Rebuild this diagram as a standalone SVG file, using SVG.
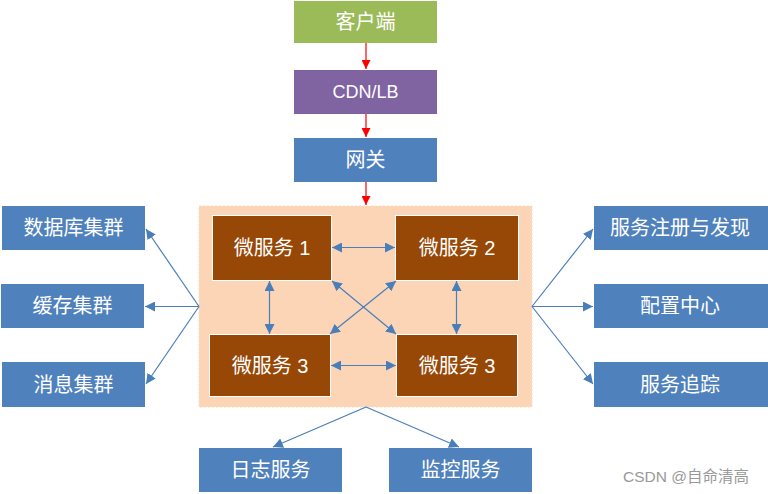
<svg xmlns="http://www.w3.org/2000/svg" width="768" height="494" viewBox="0 0 768 494">
<defs>
<style>
.t{font-family:"Liberation Sans","Noto Sans CJK SC",sans-serif;font-size:20px;fill:#fff;text-anchor:middle;dominant-baseline:central}
.blue{fill:#4F81BD}
.ms{fill:#974706;stroke:#fff;stroke-width:1}
.bl{stroke:#4A7EBB;stroke-width:1.2;fill:none}
.rd{stroke:#FF0000;stroke-width:1.2;fill:none}
</style>
<marker id="ab" viewBox="0 0 10 10" refX="10" refY="5" markerWidth="10" markerHeight="10" markerUnits="userSpaceOnUse" orient="auto-start-reverse">
<path d="M0,0 L10,5 L0,10 z" fill="#4A7EBB"/>
</marker>
<marker id="ar" viewBox="0 0 10 10" refX="10" refY="5" markerWidth="9" markerHeight="9" markerUnits="userSpaceOnUse" orient="auto">
<path d="M0,0 L10,5 L0,10 z" fill="#FF0000"/>
</marker>
</defs>
<rect width="768" height="494" fill="#fff"/>
<g id="container"><rect x="199" y="206" width="333" height="201" fill="#FBD5B5" stroke="#FBDCC2" stroke-dasharray="2,2"/></g>
<g id="client"><rect x="294" y="1" width="143" height="42" fill="#9BBB59"/><text class="t" x="365.5" y="22">客户端</text></g>
<g id="cdn"><rect x="294" y="70" width="143" height="44" fill="#8064A2"/><text class="t" x="365.5" y="92" style="font-size:18px">CDN/LB</text></g>
<g id="gateway"><rect class="blue" x="294" y="138" width="143" height="44"/><text class="t" x="365.5" y="160">网关</text></g>
<g id="ms1"><rect class="ms" x="212.5" y="215.5" width="119" height="65"/><text class="t" x="272" y="248">微服务 1</text></g>
<g id="ms2"><rect class="ms" x="395.5" y="215.5" width="123" height="65"/><text class="t" x="457" y="248">微服务 2</text></g>
<g id="ms3a"><rect class="ms" x="209.5" y="334.5" width="121" height="62"/><text class="t" x="270" y="366">微服务 3</text></g>
<g id="ms3b"><rect class="ms" x="396.5" y="334.5" width="121" height="62"/><text class="t" x="457" y="366">微服务 3</text></g>
<g id="db"><rect class="blue" x="2" y="206" width="143" height="44"/><text class="t" x="73.5" y="228">数据库集群</text></g>
<g id="cache"><rect class="blue" x="1" y="284" width="143" height="44"/><text class="t" x="72.5" y="306">缓存集群</text></g>
<g id="mq"><rect class="blue" x="2" y="362" width="143" height="45"/><text class="t" x="73.5" y="384.5">消息集群</text></g>
<g id="registry"><rect class="blue" x="594" y="206" width="174" height="44"/><text class="t" x="680" y="228">服务注册与发现</text></g>
<g id="config"><rect class="blue" x="594" y="284" width="174" height="44"/><text class="t" x="680" y="306">配置中心</text></g>
<g id="trace"><rect class="blue" x="594" y="362" width="174" height="45"/><text class="t" x="680" y="384.5">服务追踪</text></g>
<g id="log"><rect class="blue" x="199" y="448" width="143" height="44"/><text class="t" x="270.5" y="470">日志服务</text></g>
<g id="monitor"><rect class="blue" x="389" y="448" width="143" height="44"/><text class="t" x="460.5" y="470">监控服务</text></g>
<g id="connectors">
<line class="rd" x1="366" y1="43" x2="366" y2="69" marker-end="url(#ar)"/>
<line class="rd" x1="366" y1="114" x2="366" y2="137" marker-end="url(#ar)"/>
<line class="rd" x1="366" y1="182" x2="366" y2="205" marker-end="url(#ar)"/>
<line class="bl" x1="332" y1="247.5" x2="395" y2="247.5" marker-start="url(#ab)" marker-end="url(#ab)"/>
<line class="bl" x1="331" y1="365.5" x2="396" y2="365.5" marker-start="url(#ab)" marker-end="url(#ab)"/>
<line class="bl" x1="269.5" y1="281" x2="269.5" y2="334" marker-start="url(#ab)" marker-end="url(#ab)"/>
<line class="bl" x1="456.5" y1="281" x2="456.5" y2="334" marker-start="url(#ab)" marker-end="url(#ab)"/>
<line class="bl" x1="332" y1="281" x2="396" y2="334" marker-start="url(#ab)" marker-end="url(#ab)"/>
<line class="bl" x1="396" y1="281" x2="330" y2="334" marker-start="url(#ab)" marker-end="url(#ab)"/>
<line class="bl" x1="199" y1="306.5" x2="146" y2="229" marker-end="url(#ab)"/>
<line class="bl" x1="199" y1="306.5" x2="145" y2="306.5" marker-end="url(#ab)"/>
<line class="bl" x1="199" y1="306.5" x2="146" y2="384" marker-end="url(#ab)"/>
<line class="bl" x1="532" y1="306.5" x2="593" y2="229" marker-end="url(#ab)"/>
<line class="bl" x1="532" y1="306.5" x2="593" y2="306.5" marker-end="url(#ab)"/>
<line class="bl" x1="532" y1="306.5" x2="593" y2="384" marker-end="url(#ab)"/>
<line class="bl" x1="366" y1="407" x2="273" y2="447" marker-end="url(#ab)"/>
<line class="bl" x1="366" y1="407" x2="459" y2="447" marker-end="url(#ab)"/>
</g>
<text x="686" y="476" style="font-family:'Liberation Sans','Noto Sans CJK SC',sans-serif;font-size:15.5px;fill:#999;text-anchor:middle;dominant-baseline:central">CSDN @自命清高</text>
</svg>
